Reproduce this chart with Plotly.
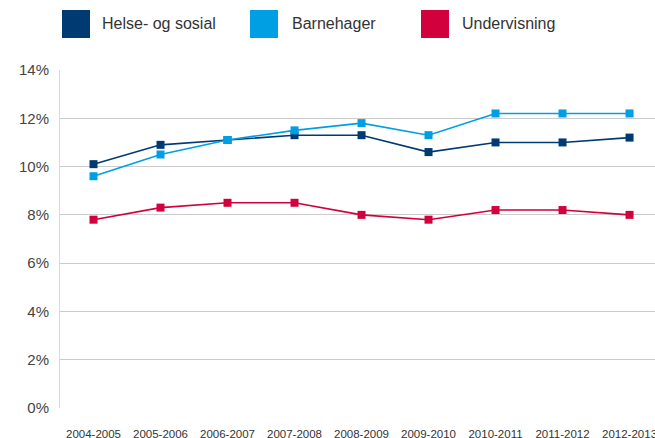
import plotly.graph_objects as go

# School-year periods on the x axis
periods = ["2004-2005", "2005-2006", "2006-2007", "2007-2008", "2008-2009",
           "2009-2010", "2010-2011", "2011-2012", "2012-2013"]

# Share (percent) per sector
helse_og_sosial = [10.1, 10.9, 11.1, 11.3, 11.3, 10.6, 11.0, 11.0, 11.2]
barnehager = [9.6, 10.5, 11.1, 11.5, 11.8, 11.3, 12.2, 12.2, 12.2]
undervisning = [7.8, 8.3, 8.5, 8.5, 8.0, 7.8, 8.2, 8.2, 8.0]

series_names = ["Helse- og sosial", "Barnehager", "Undervisning"]
series_colors = ["#003a73", "#009fe3", "#d2003c"]

y_ticks = [0, 2, 4, 6, 8, 10, 12, 14]
y_tick_labels = [f"{v}%" for v in y_ticks]

fig = go.Figure()
for name, values, color in zip(series_names,
                               [helse_og_sosial, barnehager, undervisning],
                               series_colors):
    fig.add_trace(go.Scatter(
        x=periods, y=values, name=name, mode="lines+markers",
        line=dict(color=color, width=1.6),
        marker=dict(symbol="square", size=8, color=color),
        showlegend=False,
    ))

# Legend drawn as coloured squares with labels along the top (pixel layout
# converted to paper coordinates: plot area spans x 60..655, y 70..408)
def px_x(x):
    return (x - 60) / 595


def px_y(y):
    return (408 - y) / 338


legend_box_x = [62, 250, 421]
legend_text_x = [100, 290, 460]
for name, color, bx, tx in zip(series_names, series_colors,
                               legend_box_x, legend_text_x):
    fig.add_shape(type="rect", xref="paper", yref="paper",
                  x0=px_x(bx), x1=px_x(bx + 28),
                  y0=px_y(38), y1=px_y(10),
                  fillcolor=color, line=dict(width=0))
    fig.add_annotation(xref="paper", yref="paper",
                       x=px_x(tx), y=px_y(24),
                       text=name, showarrow=False, xanchor="left",
                       yanchor="middle",
                       font=dict(size=16, color="#333333",
                                 family="Liberation Sans, Arial, sans-serif"))

fig.update_layout(
    width=655, height=438,
    margin=dict(l=60, r=0, t=70, b=30, autoexpand=False),
    paper_bgcolor="white", plot_bgcolor="white",
    font=dict(family="Liberation Sans, Arial, sans-serif", color="#444444"),
    xaxis=dict(
        type="category", range=[-0.5, 8.38], automargin=False,
        showgrid=False, zeroline=False, showline=False,
        ticks="", tickfont=dict(size=11.5, color="#333333"),
        ticklabelstandoff=17,
    ),
    yaxis=dict(
        range=[0, 14], tickvals=y_ticks, ticktext=y_tick_labels,
        automargin=False,
        showgrid=True, gridcolor="#cccccc", gridwidth=1,
        zeroline=False, showline=True, linecolor="#d9d9d9", linewidth=1,
        ticks="", tickfont=dict(size=15, color="#444444"),
        ticklabelstandoff=7,
    ),
)

fig.write_html("out.html")
